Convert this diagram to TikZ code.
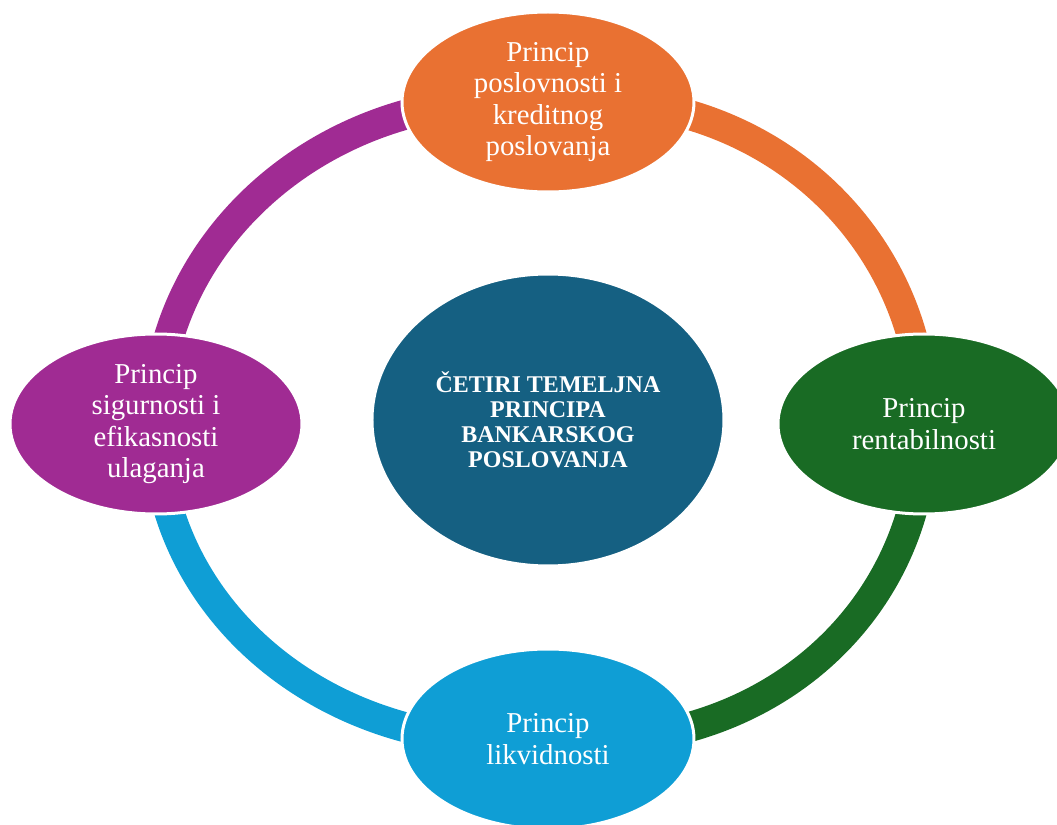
\documentclass[tikz,border=0pt]{standalone}
\usepackage{fontspec}
\setmainfont{Liberation Serif}
\usetikzlibrary{shapes.geometric,backgrounds}
\definecolor{tamnoplava}{HTML}{156082}
\definecolor{narancasta}{HTML}{E97132}
\definecolor{zelena}{HTML}{196B24}
\definecolor{plava}{HTML}{0F9ED5}
\definecolor{ljubicasta}{HTML}{A02B93}
\begin{document}
\begin{tikzpicture}[x=0.5pt,y=0.5pt,
        krug/.style={ellipse,draw=white,line width=1.5pt,text=white,inner sep=0pt,
            align=center,minimum width=146pt,minimum height=90pt,
            font=\fontsize{14.4}{15.8}\selectfont},
        luk/.style={line width=15pt}]
        \useasboundingbox (-540,-404) rectangle (517,421);

        \node[krug,fill=tamnoplava,minimum width=176pt,minimum height=146pt,
            font=\bfseries\fontsize{12}{12.5}\selectfont] (c) at (8,1)
            {ČETIRI TEMELJNA\\PRINCIPA\\BANKARSKOG\\POSLOVANJA};
        \node[krug,fill=narancasta] (t) at (8,319) {Princip\\poslovnosti i\\kreditnog\\poslovanja};
        \node[krug,fill=zelena] (r) at (384,-3) {Princip\\rentabilnosti};
        \node[krug,fill=plava] (b) at (8,-318) {Princip\\likvidnosti};
        \node[krug,fill=ljubicasta] (l) at (-384,-3) {Princip\\sigurnosti i\\efikasnosti\\ulaganja};

        % ring, under the nodes
        \begin{scope}[on background layer]
            \draw[luk,ljubicasta] (l.center) .. controls +(0,190) and +(-213,20) .. (t.center);
            \draw[luk,narancasta] (t.center) .. controls +(213,20) and +(0,190) .. (r.center);
            \draw[luk,zelena] (r.center) .. controls +(0,-190) and +(213,-20) .. (b.center);
            \draw[luk,plava] (b.center) .. controls +(-213,-20) and +(0,-190) .. (l.center);
        \end{scope}
    \end{tikzpicture}
\end{document}
